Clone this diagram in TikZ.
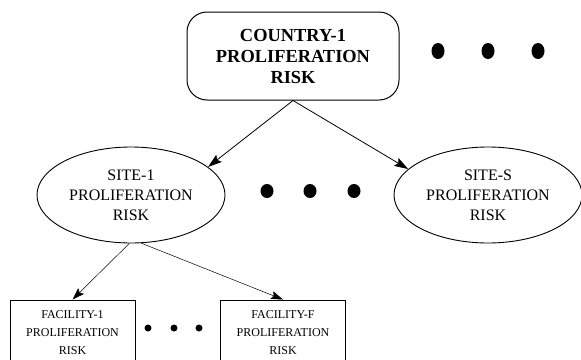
\documentclass[tikz,border=0pt]{standalone}
\usepackage{fontspec}
\setmainfont{Liberation Serif}
\usetikzlibrary{shapes.geometric,arrows.meta}

\tikzset{
  countrybox/.style={draw,line width=1pt,rounded corners=20pt,
    minimum width=212pt,minimum height=88pt,align=center,inner sep=0pt,
    font=\fontsize{18.4}{21}\selectfont\bfseries},
  sitenode/.style={draw,ellipse,line width=0.9pt,minimum width=188pt,
    minimum height=96pt,align=center,inner sep=0pt,
    font=\fontsize{16}{20}\selectfont},
  facbox/.style={draw,line width=0.9pt,minimum width=125pt,
    minimum height=66pt,align=center,inner sep=0pt,
    font=\fontsize{12}{18}\selectfont},
  bigarrow/.style={-{Stealth[length=14pt,width=9pt,inset=2.5pt]},line width=0.8pt},
  smallarrow/.style={-{Stealth[length=12pt,width=8pt,inset=2pt]},line width=0.5pt}
}

\begin{document}
\begin{tikzpicture}[x=1pt,y=-1pt]
        \useasboundingbox (0,0) rectangle (581,359) ;
        \clip (0,0) rectangle (581,359) ;
        % country level
        \node[countrybox] (country) at (293,56)
          {COUNTRY-1\\PROLIFERATION\\RISK} ;
        \foreach \x in {438,488,538}
          \fill (\x,51) ellipse (6.5 and 8) ;
        % site level
        \node[sitenode] (site1) at (131,195)
          {SITE-1\\PROLIFERATION\\RISK} ;
        \node[sitenode] (siteS) at (488,195)
          {SITE-S\\PROLIFERATION\\RISK} ;
        \foreach \x in {267,310,354}
          \fill (\x,191) ellipse (6.5 and 7) ;
        % facility level
        \node[facbox] (fac1) at (72.5,333)
          {FACILITY-1\\PROLIFERATION\\RISK} ;
        \node[facbox] (facF) at (283,333)
          {FACILITY-F\\PROLIFERATION\\RISK} ;
        \foreach \x in {148,174,199}
          \fill (\x,328) circle (3.5) ;
        \draw[bigarrow] (country.south) -- (site1.20) ;
        \draw[bigarrow] (country.south) -- (siteS.162) ;
        \draw[smallarrow] (site1.-92) -- (fac1.north) ;
        \draw[smallarrow] (site1.-78) -- (facF.north) ;
\end{tikzpicture}
\end{document}
